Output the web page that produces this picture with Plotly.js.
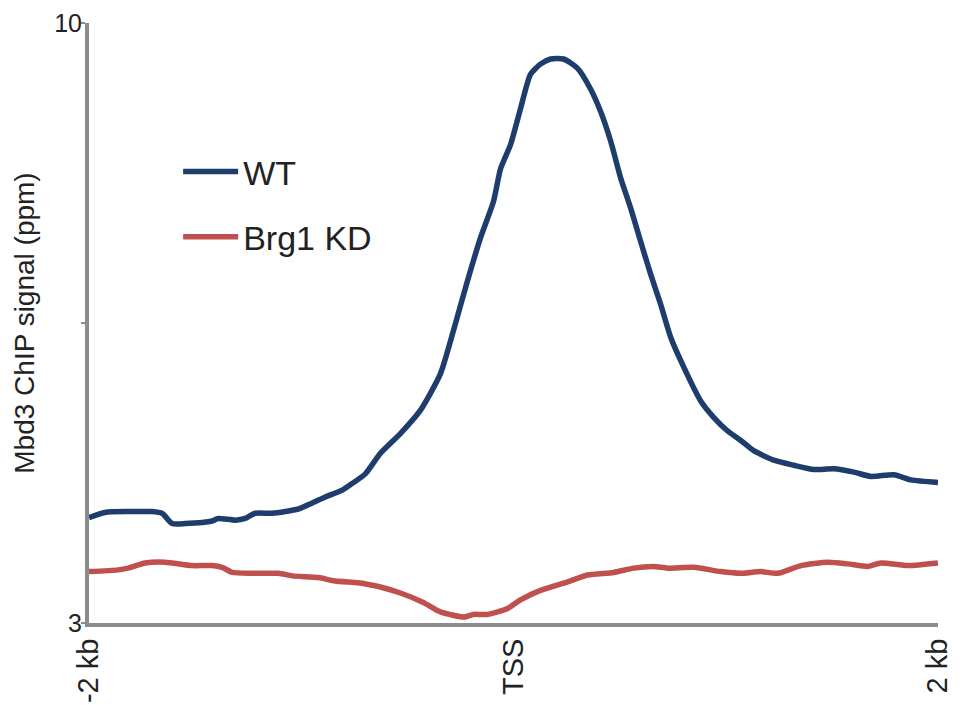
<!DOCTYPE html>
<html>
<head>
<meta charset="utf-8">
<script src="https://cdn.plot.ly/plotly-3.0.1.min.js"></script>
<style>html,body{margin:0;padding:0;background:#fff;}#chart{width:960px;height:705px;}</style>
</head>
<body>
<div id="chart"></div>
<script>
// Positions relative to TSS (bp)
const wtX = [-2000,-1925,-1807,-1703,-1656,-1608,-1547,-1420,-1392,-1311,-1264,-1217,-1137,-1014,-948,-887,-807,-759,-698,-627,-533,-439,-344,-283,-217,-156,-94,-61,-14,33,80,127,175,236,302,363,410,458,505,552,599,646,693,741,788,882,943,1009,1071,1132,1226,1321,1415,1509,1604,1684,1792,1873,2000];
const wtY = [4.23,4.29,4.30,4.30,4.28,4.16,4.16,4.19,4.22,4.20,4.22,4.28,4.28,4.33,4.40,4.47,4.55,4.63,4.74,4.98,5.21,5.48,5.91,6.41,6.99,7.49,7.92,8.30,8.58,9.00,9.40,9.52,9.58,9.58,9.47,9.23,8.97,8.62,8.19,7.84,7.45,7.07,6.72,6.33,6.06,5.59,5.40,5.24,5.13,5.01,4.90,4.84,4.79,4.80,4.76,4.71,4.73,4.67,4.64];

const kdX = [-2000,-1863,-1816,-1736,-1642,-1514,-1420,-1373,-1325,-1231,-1108,-1042,-920,-840,-731,-665,-627,-533,-425,-344,-236,-189,-123,-28,33,127,255,349,472,566,660,726,849,976,1071,1165,1245,1354,1481,1575,1670,1731,1859,2000];
const kdY = [3.60,3.62,3.64,3.70,3.71,3.67,3.67,3.65,3.59,3.58,3.58,3.55,3.53,3.49,3.47,3.44,3.42,3.35,3.24,3.13,3.07,3.10,3.10,3.17,3.27,3.38,3.48,3.56,3.59,3.64,3.66,3.64,3.65,3.60,3.58,3.60,3.58,3.67,3.71,3.69,3.66,3.70,3.67,3.70];

const seriesNames = ['WT', 'Brg1 KD'];
const xTickVals = [-2000, 0, 2000];
const xTickText = ['-2 kb', 'TSS', '2 kb'];
const yTickVals = [3, 6.5, 10];
const yTickText = ['3', '', '10'];

const FONT = 'Liberation Sans, Arial, Helvetica, sans-serif';
const AXIS_COLOR = '#8c8c8c';

const traces = [
  {x: wtX, y: wtY, name: seriesNames[0], type: 'scatter', mode: 'lines',
   line: {color: '#1f3d6c', width: 5.5, shape: 'spline', smoothing: 0.6}, legendgroup: 'a'},
  {x: kdX, y: kdY, name: seriesNames[1], type: 'scatter', mode: 'lines',
   line: {color: '#c0504d', width: 5.5, shape: 'spline', smoothing: 0.6}, legendgroup: 'b'}
];

const layout = {
  width: 960, height: 705,
  margin: {l: 89, r: 22, t: 23, b: 82},
  paper_bgcolor: '#fff', plot_bgcolor: '#fff',
  font: {family: FONT, color: '#222'},
  showlegend: true,
  legend: {x: 0.105, y: 0.8, xanchor: 'left', yanchor: 'top',
           font: {size: 34, family: FONT, color: '#222'},
           traceorder: 'grouped', tracegroupgap: 18, itemwidth: 55,
           bgcolor: 'rgba(0,0,0,0)'},
  xaxis: {range: [-2000, 2000], tickmode: 'array', tickvals: xTickVals, ticktext: xTickText,
          tickangle: -90, tickfont: {size: 29, family: FONT, color: '#222'},
          showline: true, linecolor: AXIS_COLOR, linewidth: 4, ticks: '',
          showgrid: false, zeroline: false, fixedrange: true},
  yaxis: {range: [3, 10], tickmode: 'array', tickvals: yTickVals, ticktext: yTickText,
          tickfont: {size: 25, family: FONT, color: '#222'},
          ticklabelstandoff: -6,
          showline: true, linecolor: AXIS_COLOR, linewidth: 4,
          ticks: 'outside', ticklen: 4, tickwidth: 2, tickcolor: AXIS_COLOR,
          showgrid: false, zeroline: false, fixedrange: true,
          title: {text: 'Mbd3 ChIP signal (ppm)', font: {size: 28, family: FONT, color: '#222'}, standoff: 12}}
};

Plotly.newPlot('chart', traces, layout, {displayModeBar: false, staticPlot: true});
</script>
</body>
</html>
